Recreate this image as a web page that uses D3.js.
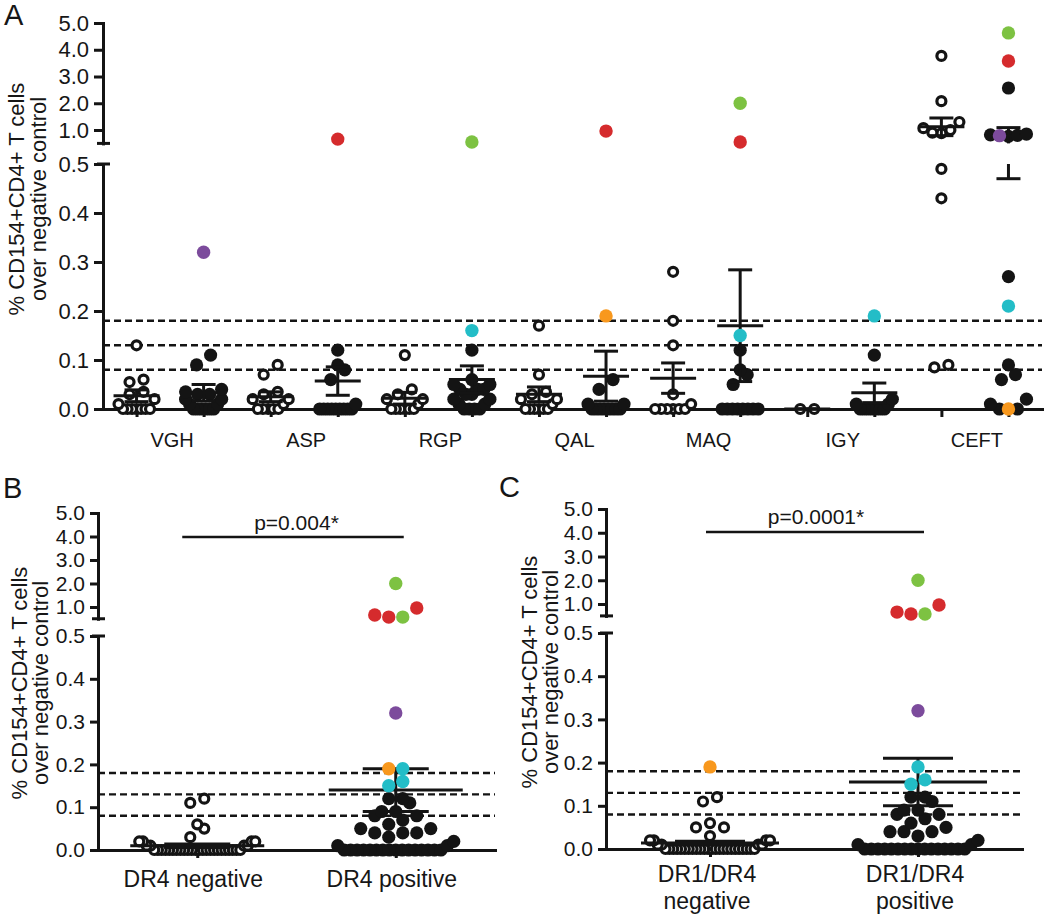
<!DOCTYPE html>
<html><head><meta charset="utf-8">
<script src="https://cdn.jsdelivr.net/npm/d3@7"></script>
<style>
body{margin:0;background:#fff}
text{font-family:"Liberation Sans",Arial,Helvetica,sans-serif;fill:#161616}
</style>
</head><body>
<svg id="c" width="1050" height="919"></svg>
<script>
// ---------------- DATA ----------------
const peptides = ["VGH","ASP","RGP","QAL","MAQ","IGY","CEFT"];
const thresholds = [0.08, 0.13, 0.18];
const lowTicks = [0, 0.1, 0.2, 0.3, 0.4, 0.5];
const highTicks = [1, 2, 3, 4, 5];
const donors = ["D1","D2","D3","D4","D5"];
const donorColors = ["#d52b2d","#7dc242","#23bdc7","#f8981d","#7c4b9c"];

// Panel A: DR4 negative donors (open circles), one list per peptide
const panelANegative = [
  [0.13, 0.06, 0.055, 0.035, 0.03, 0.02, 0.01, 0, 0, 0, 0, 0, 0, 0],
  [0.09, 0.07, 0.035, 0.03, 0.02, 0.02, 0.01, 0, 0, 0, 0, 0],
  [0.11, 0.04, 0.03, 0.02, 0.02, 0.01, 0, 0, 0, 0, 0, 0],
  [0.17, 0.07, 0.035, 0.03, 0.02, 0.02, 0.01, 0, 0, 0, 0, 0, 0],
  [0.28, 0.18, 0.13, 0.03, 0.01, 0, 0, 0, 0, 0, 0],
  [0, 0],
  [3.77, 2.08, 1.3, 1.07, 1.0, 0.9, 0.88, 0.49, 0.43, 0.09, 0.085]
];
// Panel A: DR4 positive donors (filled circles)
const panelAPositive = [
  [0.11, 0.09, 0.04, 0.035, 0.03, 0.03, 0.02, 0.02, 0.01, 0.01, 0, 0, 0, 0, 0, 0],
  [0.12, 0.09, 0.08, 0.06, 0.01, 0, 0, 0, 0, 0, 0, 0, 0, 0],
  [0.12, 0.06, 0.05, 0.05, 0.04, 0.04, 0.04, 0.03, 0.03, 0.02, 0.02, 0.01, 0.01, 0, 0, 0, 0],
  [0.06, 0.04, 0.01, 0.01, 0, 0, 0, 0, 0, 0, 0, 0],
  [0.12, 0.08, 0.07, 0.05, 0, 0, 0, 0, 0, 0, 0, 0],
  [0.11, 0.02, 0.01, 0.01, 0, 0, 0, 0, 0, 0, 0],
  [2.57, 0.85, 0.82, 0.8, 0.76, 0.27, 0.09, 0.07, 0.06, 0.02, 0.01, 0, 0]
];
// coloured (highlighted) donors in panel A: [peptide, group, donor, value]
const panelAHighlight = [
  ["VGH","pos","D5",0.32],
  ["ASP","pos","D1",0.66],
  ["RGP","pos","D2",0.55], ["RGP","pos","D3",0.16],
  ["QAL","pos","D1",0.96], ["QAL","pos","D4",0.19],
  ["MAQ","pos","D2",2.0], ["MAQ","pos","D1",0.55], ["MAQ","pos","D3",0.15],
  ["IGY","pos","D3",0.19],
  ["CEFT","pos","D2",4.63], ["CEFT","pos","D1",3.58], ["CEFT","pos","D5",0.79], ["CEFT","pos","D3",0.21], ["CEFT","pos","D4",0]
];
const panelANegMean = [0.027, 0.025, 0.022, 0.030, 0.063, 0.0, 1.12];
const panelANegSem  = [0.012, 0.010, 0.012, 0.015, 0.031, 0.0, 0.33];
const panelAPosMean = [0.033, 0.057, 0.060, 0.067, 0.170, 0.033, 0.78];
const panelAPosSem  = [0.017, 0.029, 0.028, 0.051, 0.114, 0.020, 0.31];

// Panel B
const panelBCategories = ["DR4 negative", "DR4 positive"];
const panelBNegative = [0.12, 0.11, 0.06, 0.05, 0.03, 0.02, 0.02, 0.02, 0.02, 0.01, 0.01, 0.01, 0.01,
  0, 0, 0, 0, 0, 0, 0, 0, 0, 0, 0, 0, 0, 0, 0, 0, 0, 0, 0, 0, 0, 0, 0, 0];
const panelBPositive = [0.12, 0.12, 0.11, 0.09, 0.09, 0.08, 0.08, 0.07, 0.06, 0.05, 0.05, 0.04, 0.04, 0.04, 0.03, 0.02, 0.01, 0.01,
  0, 0, 0, 0, 0, 0, 0, 0, 0, 0, 0, 0, 0, 0, 0, 0];
const panelBHighlight = [["pos","D1",0.66],["pos","D1",0.57],["pos","D1",0.96],["pos","D2",0.57],["pos","D2",2.0],
  ["pos","D5",0.32],["pos","D4",0.19],["pos","D3",0.19],["pos","D3",0.16],["pos","D3",0.15]];
const panelBMean = [0.010, 0.140];
const panelBSem  = [0.004, 0.050];
const panelBPText = "p=0.004*";

// Panel C
const panelCCategories = [["DR1/DR4","negative"], ["DR1/DR4","positive"]];
const panelCNegative = [0.12, 0.11, 0.06, 0.05, 0.05, 0.03, 0.02, 0.02, 0.02, 0.02, 0.01, 0.01, 0.01, 0.01,
  0, 0, 0, 0, 0, 0, 0, 0, 0, 0, 0, 0, 0, 0, 0, 0, 0, 0, 0, 0, 0, 0, 0, 0];
const panelCPositive = [0.12, 0.12, 0.11, 0.09, 0.09, 0.08, 0.08, 0.07, 0.06, 0.05, 0.04, 0.04, 0.04, 0.03, 0.02, 0.01, 0.01,
  0, 0, 0, 0, 0, 0, 0, 0, 0, 0, 0, 0, 0, 0, 0, 0];
const panelCHighlight = [["neg","D4",0.19],["pos","D1",0.66],["pos","D1",0.58],["pos","D1",0.96],["pos","D2",0.58],["pos","D2",2.0],
  ["pos","D5",0.32],["pos","D3",0.19],["pos","D3",0.16],["pos","D3",0.15]];
const panelCMean = [0.014, 0.155];
const panelCSem  = [0.004, 0.055];
const panelCPText = "p=0.0001*";

const yTitle = ["% CD154+CD4+ T cells", "over negative control"];

// ---------------- DRAWING ----------------
const INK = "#141414";
const svg = d3.select("#c");
const color = d3.scaleOrdinal().domain(donors).range(donorColors);

function makeY(cfg) {
  const lo = d3.scaleLinear().domain([0, 0.5]).range(cfg.yLow);
  const hi = d3.scaleLinear().domain([0.5, 5]).range(cfg.yHigh);
  const f = v => v <= 0.5 ? lo(v) : hi(v);
  f.lo = lo; f.hi = hi;
  return f;
}

// GraphPad-like scatter: bin by pixel height, spread each bin horizontally
function swarm(pts, cx, y, halfW, step, binH) {
  const arr = pts.map((d, i) => ({...d, py: y(d.v), i}));
  arr.sort((a, b) => (b.py - a.py) || (a.i - b.i));
  const bins = [];
  let cur = null;
  for (const p of arr) {
    if (!cur || cur.start - p.py >= binH) { cur = {start: p.py, items: []}; bins.push(cur); }
    cur.items.push(p);
  }
  for (const b of bins) {
    const n = b.items.length;
    const s = n > 1 ? Math.min(step, 2 * halfW / (n - 1)) : 0;
    const offs = d3.range(n).map(i => (i - (n - 1) / 2) * s)
      .sort((a, c) => (Math.abs(a) - Math.abs(c)) || (a - c));
    b.items.forEach((p, k) => p.px = cx + offs[k]);
  }
  return arr;
}

function styleAxis(sel, fs) {
  sel.select(".domain").attr("stroke", INK).attr("stroke-width", 3).attr("stroke-linecap", "square");
  sel.selectAll(".tick line").attr("stroke", INK).attr("stroke-width", 3);
  sel.selectAll(".tick text").attr("font-size", fs).attr("fill", INK)
    .style("font-family", '"Liberation Sans", Arial, sans-serif');
}

function drawPanel(cfg) {
  const g = svg.append("g");
  const y = makeY(cfg);
  const x = d3.scalePoint().domain(cfg.groups.map(d => d.id)).range([cfg.x0, cfg.x1]).padding(0.5);

  // threshold lines
  g.selectAll("line.th").data(thresholds).join("line")
    .attr("x1", cfg.x0).attr("x2", cfg.x1)
    .attr("y1", d => y(d)).attr("y2", d => y(d))
    .attr("stroke", INK).attr("stroke-width", 2.4).attr("stroke-dasharray", "7,4");

  // y axes (broken)
  const axLo = g.append("g").attr("transform", `translate(${cfg.x0},0)`)
    .call(d3.axisLeft(y.lo).tickValues(lowTicks).tickFormat(d3.format(".1f"))
      .tickSize(cfg.tick).tickSizeOuter(0).tickPadding(5));
  styleAxis(axLo, cfg.tickFont);
  const axHi = g.append("g").attr("transform", `translate(${cfg.x0},0)`)
    .call(d3.axisLeft(y.hi).tickValues(highTicks).tickFormat(d3.format(".1f"))
      .tickSize(cfg.tick).tickSizeOuter(0).tickPadding(5));
  styleAxis(axHi, cfg.tickFont);
  // break marks
  [y.lo(0.5), y.hi(0.5)].forEach(yy => {
    g.append("line").attr("x1", cfg.x0 - 6).attr("x2", cfg.x0 + 7).attr("y1", yy).attr("y2", yy)
      .attr("stroke", INK).attr("stroke-width", 3);
  });

  // x axis
  const axX = g.append("g").attr("transform", `translate(0,${y(0)})`)
    .call(d3.axisBottom(x).tickSize(8).tickSizeOuter(0).tickFormat(""));
  styleAxis(axX, cfg.tickFont);

  // points
  const placed = cfg.groups.map(grp => swarm(grp.points, x(grp.id), y, cfg.halfW, cfg.step, cfg.binH)
    .map(p => ({...p, open: grp.open})));
  const all = placed.flat();
  const plain = all.filter(p => !p.donor);
  const hl = all.filter(p => p.donor);

  g.selectAll("circle.pt").data(plain).join("circle")
    .attr("cx", d => d.px).attr("cy", d => d.py)
    .attr("r", d => d.open ? 4.5 : 6.6)
    .attr("fill", d => d.open ? "#fff" : INK)
    .attr("stroke", d => d.open ? INK : "none")
    .attr("stroke-width", 3.2);

  // mean +/- SEM
  cfg.groups.forEach(grp => {
    const cx = x(grp.id);
    const m = grp.mean, s = grp.sem;
    const lo = m - s, hi = m + s;
    const segs = [];
    if (hi <= 0.5 || lo > 0.5) segs.push([y(lo), y(hi)]);
    else { segs.push([y.lo(lo), y.lo(0.5)]); segs.push([y.hi(0.5), y.hi(hi)]); }
    segs.forEach(([ya, yb]) => {
      g.append("line").attr("x1", cx).attr("x2", cx).attr("y1", ya).attr("y2", yb)
        .attr("stroke", INK).attr("stroke-width", 3);
    });
    [lo, hi].forEach(v => {
      g.append("line").attr("x1", cx - cfg.capHalf).attr("x2", cx + cfg.capHalf)
        .attr("y1", y(v)).attr("y2", y(v)).attr("stroke", INK).attr("stroke-width", 3);
    });
    g.append("line").attr("x1", cx - cfg.meanHalf).attr("x2", cx + cfg.meanHalf)
      .attr("y1", y(m)).attr("y2", y(m)).attr("stroke", INK).attr("stroke-width", 3);
  });

  g.selectAll("circle.hl").data(hl).join("circle")
    .attr("cx", d => d.px).attr("cy", d => d.py).attr("r", 6.7)
    .attr("fill", d => color(d.donor));

  // y title
  const t = g.append("g").attr("font-size", cfg.titleFont);
  yTitle.forEach((line, i) => {
    t.append("text").attr("transform", `translate(${cfg.titleX[i]},${cfg.titleY}) rotate(-90)`)
      .attr("text-anchor", "middle").text(line);
  });
  // panel letter
  g.append("text").attr("x", cfg.letterPos[0]).attr("y", cfg.letterPos[1])
    .attr("font-size", 29).text(cfg.letter);
  return {g, x, y};
}

// ---- Panel A ----
const groupsA = [];
peptides.forEach((pep, i) => {
  const hlN = panelAHighlight.filter(h => h[0] === pep && h[1] === "neg").map(h => ({v: h[3], donor: h[2]}));
  const hlP = panelAHighlight.filter(h => h[0] === pep && h[1] === "pos").map(h => ({v: h[3], donor: h[2]}));
  groupsA.push({id: pep + "-neg", open: true, mean: panelANegMean[i], sem: panelANegSem[i],
    points: hlN.concat(panelANegative[i].map(v => ({v, donor: null})))});
  groupsA.push({id: pep + "-pos", open: false, mean: panelAPosMean[i], sem: panelAPosSem[i],
    points: hlP.concat(panelAPositive[i].map(v => ({v, donor: null})))});
});
const A = drawPanel({
  x0: 103, x1: 1042, yLow: [409, 164], yHigh: [143.4, 23], tick: 9, tickFont: 22,
  groups: groupsA, halfW: 18, step: 14, binH: 12, meanHalf: 23, capHalf: 12,
  titleFont: 22, titleX: [24, 46], titleY: 199, letter: "A", letterPos: [4, 25]
});
A.g.selectAll("text.cat").data(peptides).join("text")
  .attr("x", d => (A.x(d + "-neg") + A.x(d + "-pos")) / 2 + 2).attr("y", 447)
  .attr("text-anchor", "middle").attr("font-size", 20).text(d => d);

// ---- Panel B ----
function twoGroups(neg, pos, hl, mean, sem) {
  return [
    {id: "neg", open: true, mean: mean[0], sem: sem[0],
     points: hl.filter(h => h[0] === "neg").map(h => ({v: h[2], donor: h[1]})).concat(neg.map(v => ({v, donor: null})))},
    {id: "pos", open: false, mean: mean[1], sem: sem[1],
     points: hl.filter(h => h[0] === "pos").map(h => ({v: h[2], donor: h[1]})).concat(pos.map(v => ({v, donor: null})))}
  ];
}
const B = drawPanel({
  x0: 98, x1: 495, yLow: [850, 636], yHigh: [618.75, 513], tick: 8, tickFont: 21,
  groups: twoGroups(panelBNegative, panelBPositive, panelBHighlight, panelBMean, panelBSem),
  halfW: 58, step: 14, binH: 12, meanHalf: 67, capHalf: 33,
  titleFont: 22, titleX: [27, 48], titleY: 683, letter: "B", letterPos: [3, 498]
});
B.g.selectAll("text.cat").data(panelBCategories).join("text")
  .attr("x", (d, i) => B.x(["neg","pos"][i]) - 4).attr("y", 887)
  .attr("text-anchor", "middle").attr("font-size", 23).text(d => d);
B.g.append("line").attr("x1", B.x("neg") - 15).attr("x2", B.x("pos") + 8)
  .attr("y1", 537).attr("y2", 537).attr("stroke", INK).attr("stroke-width", 2.5);
B.g.append("text").attr("x", (B.x("neg") + B.x("pos")) / 2).attr("y", 530)
  .attr("text-anchor", "middle").attr("font-size", 21).text(panelBPText);

// ---- Panel C ----
const C = drawPanel({
  x0: 606, x1: 1022, yLow: [849, 633], yHigh: [615.9, 509], tick: 8, tickFont: 21,
  groups: twoGroups(panelCNegative, panelCPositive, panelCHighlight, panelCMean, panelCSem),
  halfW: 60, step: 14, binH: 12, meanHalf: 69, capHalf: 35,
  titleFont: 22, titleX: [537, 558], titleY: 672, letter: "C", letterPos: [499, 497]
});
panelCCategories.forEach((lines, i) => {
  lines.forEach((ln, j) => {
    C.g.append("text").attr("x", C.x(["neg","pos"][i]) - 3).attr("y", 882 + j * 27)
      .attr("text-anchor", "middle").attr("font-size", 23).text(ln);
  });
});
C.g.append("line").attr("x1", C.x("neg") - 4).attr("x2", C.x("pos") + 6)
  .attr("y1", 532).attr("y2", 532).attr("stroke", INK).attr("stroke-width", 2.5);
C.g.append("text").attr("x", (C.x("neg") + C.x("pos")) / 2 + 2).attr("y", 524)
  .attr("text-anchor", "middle").attr("font-size", 21).text(panelCPText);
</script>
</body></html>
